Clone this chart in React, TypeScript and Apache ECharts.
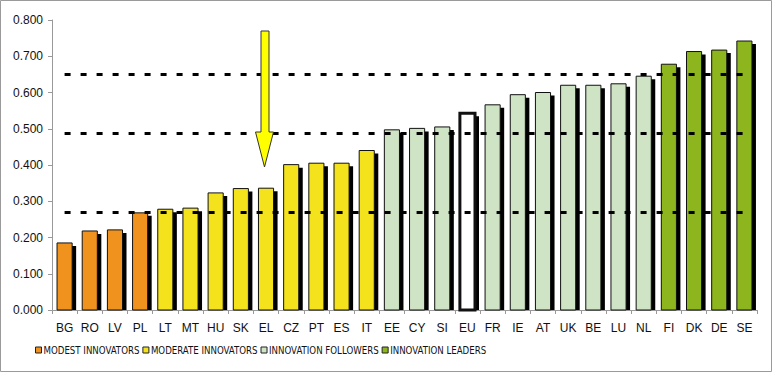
import React, { useEffect, useRef } from "react";
import * as echarts from "echarts";

const categories = ["BG","RO","LV","PL","LT","MT","HU","SK","EL","CZ","PT","ES","IT","EE","CY","SI","EU","FR","IE","AT","UK","BE","LU","NL","FI","DK","DE","SE"];
const scores = [0.185,0.218,0.221,0.268,0.278,0.281,0.323,0.335,0.336,0.401,0.405,0.405,0.440,0.497,0.501,0.505,0.543,0.566,0.594,0.600,0.620,0.620,0.624,0.645,0.678,0.713,0.717,0.742];

const modest = ["BG","RO","LV","PL"];
const moderate = ["LT","MT","HU","SK","EL","CZ","PT","ES","IT"];
const followers = ["EE","CY","SI","FR","IE","AT","UK","BE","LU","NL"];
const leaders = ["FI","DK","DE","SE"];
const average = ["EU"];

const groupNames = ["MODEST INNOVATORS","MODERATE INNOVATORS","INNOVATION FOLLOWERS","INNOVATION LEADERS"];
const thresholds = [0.271, 0.487, 0.651];
const yTicks = [0, 0.1, 0.2, 0.3, 0.4, 0.5, 0.6, 0.7, 0.8];

const groupColors = ["#f0921e", "#f3e21c", "#cfe3c5", "#8db51d"];

const dataFor = (codes: string[]) =>
  codes.map((c) => {
    const i = categories.indexOf(c);
    return [i, scores[i]];
  });

const makeRender = (fill: string, lw: number) => (params: any, api: any) => {
  const idx = api.value(0);
  const v = api.value(1);
  const top = api.coord([idx, v]);
  const base = api.coord([idx, 0]);
  const w = api.size([1, 0])[0] * 0.6;
  const x = top[0] - w / 2;
  const h = base[1] - top[1];
  return {
    type: "group",
    children: [
      { type: "rect", shape: { x: x + 4, y: top[1] + 3, width: w, height: h - 3 }, style: { fill: "#000" } },
      { type: "rect", shape: { x, y: top[1], width: w, height: h }, style: { fill, stroke: "#111", lineWidth: lw } },
    ],
  };
};

export default function App() {
  const ref = useRef<HTMLDivElement>(null);
  useEffect(() => {
    if (!ref.current) return;
    const chart = echarts.init(ref.current, null, { renderer: "svg" });
    const groups = [modest, moderate, followers, leaders];
    const series: any[] = groups.map((g, k) => ({
      type: "custom",
      name: groupNames[k],
      data: dataFor(g),
      encode: { x: 0, y: 1 },
      itemStyle: { color: groupColors[k] },
      renderItem: makeRender(groupColors[k], 1),
      z: 2,
    }));
    series.push({
      type: "custom",
      name: "EU",
      data: dataFor(average),
      encode: { x: 0, y: 1 },
      itemStyle: { color: "#ffffff" },
      renderItem: makeRender("#ffffff", 3),
      z: 2,
    });
    series.push({
      type: "line",
      name: "thresholds",
      data: [],
      z: 5,
      markLine: {
        silent: true,
        symbol: ["none", "none"],
        label: { show: false },
        lineStyle: { color: "#000", width: 3, type: [6, 10] },
        data: thresholds.map((t) => [{ coord: [0, t] }, { coord: [categories.length - 1, t] }]),
      },
    });
    chart.setOption({
      animation: false,
      backgroundColor: "#ffffff",
      grid: { left: 52, right: 19, top: 20, bottom: 65, containLabel: false },
      xAxis: {
        type: "category",
        data: categories,
        axisLine: { lineStyle: { color: "#999", width: 1 } },
        axisTick: { show: true, length: 4, lineStyle: { color: "#999" } },
        axisLabel: { color: "#111", fontSize: 12, fontFamily: "Liberation Sans, Arial, sans-serif", margin: 12 },
      },
      yAxis: {
        type: "value",
        min: yTicks[0],
        max: yTicks[yTicks.length - 1],
        interval: 0.1,
        axisLine: { show: true, lineStyle: { color: "#999", width: 1 } },
        axisTick: { show: true, length: 4, lineStyle: { color: "#999" } },
        splitLine: { show: false },
        axisLabel: {
          color: "#111",
          fontSize: 12,
          fontFamily: "Liberation Sans, Arial, sans-serif",
          margin: 9,
          formatter: (v: number) => v.toFixed(3),
        },
      },
      legend: {
        data: groupNames.map((n, k) => ({ name: n, itemStyle: { color: groupColors[k], borderColor: "#222", borderWidth: 1 } })),
        icon: "rect",
        left: 35,
        top: 345,
        padding: 0,
        itemWidth: 6,
        itemHeight: 6,
        itemGap: 3,
        selectedMode: false,
        textStyle: { color: "#111", fontSize: 9.6, fontFamily: "DejaVu Sans Condensed, Liberation Sans, sans-serif", padding: [0, 0, 0, -3] },
      },
      graphic: [
        {
          type: "rect",
          z: 100,
          silent: true,
          shape: { x: 0.5, y: 0.5, width: 771, height: 371 },
          style: { fill: "none", stroke: "#9a9a9a", lineWidth: 1 },
        },
        {
          type: "polygon",
          z: 100,
          silent: true,
          shape: {
            points: [[261, 31], [269, 31], [269, 132], [273.5, 132], [264.5, 167], [255.5, 132], [261, 132]],
          },
          style: { fill: "#ffff00", stroke: "#333", lineWidth: 1 },
        },
      ],
      series,
    });
    return () => chart.dispose();
  }, []);
  return <div ref={ref} style={{ position: "absolute", left: 0, top: 0, width: 776, height: 375, background: "#fff" }} />;
}
